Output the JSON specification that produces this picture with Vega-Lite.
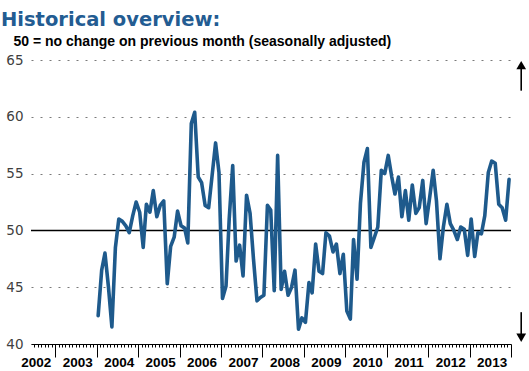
{
  "$schema": "https://vega.github.io/schema/vega-lite/v6.json",
  "width": 480,
  "height": 284,
  "autosize": {"type": "none"},
  "padding": {"left": 31, "top": 60, "right": 18, "bottom": 27},
  "title": {
    "text": "Historical overview:",
    "anchor": "start",
    "frame": "group",
    "dx": -30,
    "font": "DejaVu Sans",
    "fontSize": 19.5,
    "fontWeight": "bold",
    "color": "#235c92"
  },
  "config": {"view": {"stroke": null}, "font": "Liberation Sans"},
  "layer": [
    {
      "data": {"values": [{}]},
      "mark": {"type": "rule", "color": "#000000", "strokeWidth": 1.5},
      "encoding": {"y": {"datum": 50}}
    },
    {
      "data": {"values": [
        {"d":"2004-01-15","v":42.5},{"d":"2004-02-15","v":46.5},{"d":"2004-03-15","v":48.0},{"d":"2004-04-15","v":45.0},{"d":"2004-05-15","v":41.5},{"d":"2004-06-15","v":48.5},{"d":"2004-07-15","v":51.0},{"d":"2004-08-15","v":50.8},{"d":"2004-09-15","v":50.4},{"d":"2004-10-15","v":49.8},{"d":"2004-11-15","v":51.3},{"d":"2004-12-15","v":52.5},
        {"d":"2005-01-15","v":51.6},{"d":"2005-02-15","v":48.5},{"d":"2005-03-15","v":52.3},{"d":"2005-04-15","v":51.6},{"d":"2005-05-15","v":53.5},{"d":"2005-06-15","v":51.2},{"d":"2005-07-15","v":52.2},{"d":"2005-08-15","v":52.6},{"d":"2005-09-15","v":45.3},{"d":"2005-10-15","v":48.6},{"d":"2005-11-15","v":49.4},{"d":"2005-12-15","v":51.7},
        {"d":"2006-01-15","v":50.4},{"d":"2006-02-15","v":50.2},{"d":"2006-03-15","v":48.9},{"d":"2006-04-15","v":59.4},{"d":"2006-05-15","v":60.4},{"d":"2006-06-15","v":54.7},{"d":"2006-07-15","v":54.2},{"d":"2006-08-15","v":52.2},{"d":"2006-09-15","v":52.0},{"d":"2006-10-15","v":54.8},{"d":"2006-11-15","v":57.7},{"d":"2006-12-15","v":55.1},
        {"d":"2007-01-15","v":44.0},{"d":"2007-02-15","v":45.1},{"d":"2007-03-15","v":51.0},{"d":"2007-04-15","v":55.7},{"d":"2007-05-15","v":47.3},{"d":"2007-06-15","v":48.7},{"d":"2007-07-15","v":46.0},{"d":"2007-08-15","v":53.1},{"d":"2007-09-15","v":51.5},{"d":"2007-10-15","v":47.5},{"d":"2007-11-15","v":43.8},{"d":"2007-12-15","v":44.1},
        {"d":"2008-01-15","v":44.3},{"d":"2008-02-15","v":52.2},{"d":"2008-03-15","v":51.8},{"d":"2008-04-15","v":44.7},{"d":"2008-05-15","v":56.6},{"d":"2008-06-15","v":44.8},{"d":"2008-07-15","v":46.4},{"d":"2008-08-15","v":44.3},{"d":"2008-09-15","v":45.0},{"d":"2008-10-15","v":46.5},{"d":"2008-11-15","v":41.3},{"d":"2008-12-15","v":42.3},
        {"d":"2009-01-15","v":41.9},{"d":"2009-02-15","v":45.4},{"d":"2009-03-15","v":44.5},{"d":"2009-04-15","v":48.8},{"d":"2009-05-15","v":46.4},{"d":"2009-06-15","v":46.2},{"d":"2009-07-15","v":49.8},{"d":"2009-08-15","v":49.5},{"d":"2009-09-15","v":48.1},{"d":"2009-10-15","v":48.8},{"d":"2009-11-15","v":46.2},{"d":"2009-12-15","v":47.9},
        {"d":"2010-01-15","v":42.9},{"d":"2010-02-15","v":42.2},{"d":"2010-03-15","v":49.2},{"d":"2010-04-15","v":45.7},{"d":"2010-05-15","v":52.4},{"d":"2010-06-15","v":56.0},{"d":"2010-07-15","v":57.2},{"d":"2010-08-15","v":48.5},{"d":"2010-09-15","v":49.4},{"d":"2010-10-15","v":50.3},{"d":"2010-11-15","v":55.3},{"d":"2010-12-15","v":55.0},
        {"d":"2011-01-15","v":56.6},{"d":"2011-02-15","v":54.7},{"d":"2011-03-15","v":53.2},{"d":"2011-04-15","v":54.7},{"d":"2011-05-15","v":51.2},{"d":"2011-06-15","v":53.5},{"d":"2011-07-15","v":50.9},{"d":"2011-08-15","v":54.0},{"d":"2011-09-15","v":51.5},{"d":"2011-10-15","v":52.0},{"d":"2011-11-15","v":54.4},{"d":"2011-12-15","v":50.6},
        {"d":"2012-01-15","v":52.9},{"d":"2012-02-15","v":55.3},{"d":"2012-03-15","v":52.6},{"d":"2012-04-15","v":47.5},{"d":"2012-05-15","v":50.3},{"d":"2012-06-15","v":52.3},{"d":"2012-07-15","v":50.6},{"d":"2012-08-15","v":50.0},{"d":"2012-09-15","v":49.2},{"d":"2012-10-15","v":50.3},{"d":"2012-11-15","v":50.1},{"d":"2012-12-15","v":47.8},
        {"d":"2013-01-15","v":51.0},{"d":"2013-02-15","v":47.7},{"d":"2013-03-15","v":49.8},{"d":"2013-04-15","v":49.7},{"d":"2013-05-15","v":51.3},{"d":"2013-06-15","v":55.1},{"d":"2013-07-15","v":56.1},{"d":"2013-08-15","v":55.9},{"d":"2013-09-15","v":52.3},{"d":"2013-10-15","v":52.0},{"d":"2013-11-15","v":50.9},{"d":"2013-12-15","v":54.5}
      ]},
      "mark": {"type": "line", "color": "#1e5a8c", "strokeWidth": 3.6, "strokeJoin": "round", "strokeCap": "round"},
      "encoding": {
        "x": {
          "field": "d",
          "type": "temporal",
          "scale": {"domain": ["2002-06-02", "2014-01-01"]},
          "axis": {
            "title": null,
            "orient": "bottom",
            "grid": false,
            "tickCount": {"interval": "month", "step": 1},
            "tickSize": {"condition": {"test": "month(datum.value) === 0", "value": 13}, "value": 3},
            "tickColor": "#000000",
            "tickWidth": 1,
            "domainColor": "#000000",
            "domainWidth": 1,
            "labelExpr": "month(datum.value) === 6 ? timeFormat(datum.value, '%Y') : ''",
            "labelOverlap": false,
            "labelFlush": false,
            "labelBound": false,
            "labelOffset": 1.5,
            "labelFont": "Liberation Sans",
            "labelFontSize": 13.5,
            "labelFontWeight": "bold",
            "labelColor": "#000000",
            "labelPadding": 8
          }
        },
        "y": {
          "field": "v",
          "type": "quantitative",
          "scale": {"domain": [40, 65], "nice": false, "zero": false},
          "axis": {
            "values": [40, 45, 50, 55, 60, 65],
            "grid": true,
            "gridDash": [2, 7],
            "gridColor": "#7a7a7a",
            "gridWidth": 1,
            "domain": false,
            "ticks": false,
            "tickSize": 0,
            "labelPadding": 8,
            "labelFont": "DejaVu Sans",
            "labelFontSize": 13.5,
            "labelColor": "#404040",
            "title": "50 = no change on previous month (seasonally adjusted)",
            "titleAngle": 0,
            "titleAlign": "left",
            "titleBaseline": "alphabetic",
            "titleX": -18,
            "titleY": -15,
            "titleFont": "Liberation Sans",
            "titleFontSize": 14,
            "titleFontWeight": "bold",
            "titleColor": "#000000"
          }
        }
      }
    },
    {
      "data": {"values": [{}]},
      "mark": {"type": "rule", "color": "#000000", "strokeWidth": 1.6, "clip": false},
      "encoding": {
        "x": {"datum": {"year": 2014, "month": 4, "date": 1}, "type": "temporal"},
        "y": {"datum": 62.3},
        "y2": {"datum": 64.4}
      }
    },
    {
      "data": {"values": [{}]},
      "mark": {"type": "point", "shape": "triangle-up", "filled": true, "color": "#000000", "opacity": 1, "size": 95, "clip": false},
      "encoding": {
        "x": {"datum": {"year": 2014, "month": 4, "date": 1}, "type": "temporal"},
        "y": {"datum": 64.55}
      }
    },
    {
      "data": {"values": [{}]},
      "mark": {"type": "rule", "color": "#000000", "strokeWidth": 1.6, "clip": false},
      "encoding": {
        "x": {"datum": {"year": 2014, "month": 4, "date": 1}, "type": "temporal"},
        "y": {"datum": 40.7},
        "y2": {"datum": 42.8}
      }
    },
    {
      "data": {"values": [{}]},
      "mark": {"type": "point", "shape": "triangle-down", "filled": true, "color": "#000000", "opacity": 1, "size": 95, "clip": false},
      "encoding": {
        "x": {"datum": {"year": 2014, "month": 4, "date": 1}, "type": "temporal"},
        "y": {"datum": 40.55}
      }
    }
  ]
}
